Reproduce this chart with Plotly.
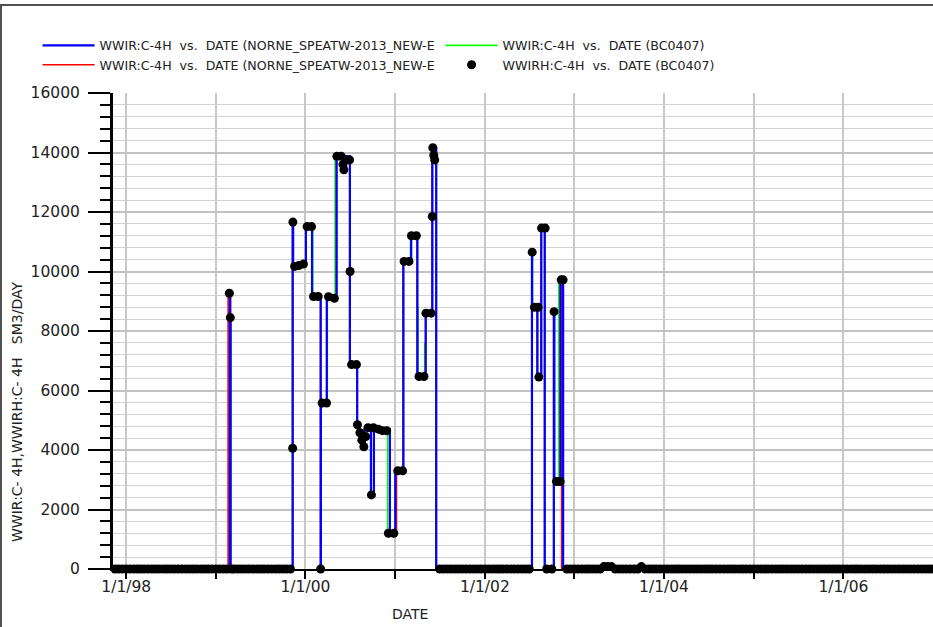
import plotly.graph_objects as go

# ---------------- data ----------------
# History (WWIRH) readings, split into segments
hist_a_dates = [  # shut-in period before first injection, incl. short 1999 event
    "1997-11-01", "1997-11-16", "1997-12-01", "1997-12-16",
    "1998-01-01", "1998-01-16", "1998-02-01", "1998-02-16", "1998-03-01", "1998-03-16",
    "1998-04-01", "1998-04-16", "1998-05-01", "1998-05-16", "1998-06-01", "1998-06-16",
    "1998-07-01", "1998-07-16", "1998-08-01", "1998-08-16", "1998-09-01", "1998-09-16",
    "1998-10-01", "1998-10-16", "1998-11-01", "1998-11-16", "1998-12-01", "1998-12-16",
    "1999-01-01", "1999-01-16", "1999-02-01", "1999-02-16", "1999-02-25", "1999-03-01",
    "1999-03-05", "1999-03-16", "1999-04-01", "1999-04-16", "1999-05-01", "1999-05-16",
    "1999-06-01", "1999-06-16", "1999-07-01", "1999-07-16", "1999-08-01", "1999-08-16",
    "1999-09-01", "1999-09-16", "1999-10-01", "1999-10-16", "1999-11-01",
]
hist_a_vals = [
    0, 0, 0, 0,
    0, 0, 0, 0, 0, 0,
    0, 0, 0, 0, 0, 0,
    0, 0, 0, 0, 0, 0,
    0, 0, 0, 0, 0, 0,
    0, 0, 0, 0, 9270, 8450,
    0, 0, 0, 0, 0, 0,
    0, 0, 0, 0, 0, 0,
    0, 0, 0, 0, 0,
]
hist_b_dates = [  # injection period 1999-2001
    "1999-11-10", "1999-11-11", "1999-11-18", "1999-12-05", "1999-12-24",
    "2000-01-08", "2000-01-26", "2000-02-03", "2000-02-22", "2000-03-03", "2000-03-09",
    "2000-03-27", "2000-04-04", "2000-04-28", "2000-05-08", "2000-05-26", "2000-06-02",
    "2000-06-06", "2000-06-13", "2000-06-29", "2000-07-01", "2000-07-07", "2000-07-27",
    "2000-07-31", "2000-08-10", "2000-08-18", "2000-08-26", "2000-09-03", "2000-09-12",
    "2000-09-26", "2000-10-04", "2000-10-24", "2000-11-10", "2000-11-27", "2000-12-04",
    "2000-12-26", "2001-01-11", "2001-01-31", "2001-02-06", "2001-02-26", "2001-03-08",
    "2001-03-28", "2001-04-08", "2001-04-28", "2001-05-06", "2001-05-27", "2001-06-01",
    "2001-06-03", "2001-06-07", "2001-06-11",
]
hist_b_vals = [
    4060, 11660, 10170, 10200, 10250,
    11510, 11510, 9160, 9160, 0, 5580,
    5580, 9150, 9100, 13870, 13870, 13600,
    13420, 13750, 13750, 10000, 6870, 6870,
    4850, 4580, 4330, 4110, 4450, 4750,
    2490, 4750, 4700, 4650, 4650, 1200,
    1200, 3300, 3300, 10340, 10340, 11200,
    11200, 6470, 6470, 8600, 8600, 11850,
    14160, 13900, 13750,
]
hist_c_dates = [  # shut-in 2001-2002
    "2001-07-01", "2001-07-16", "2001-08-01", "2001-08-16", "2001-09-01", "2001-09-16",
    "2001-10-01", "2001-10-16", "2001-11-01", "2001-11-16", "2001-12-01", "2001-12-16",
    "2002-01-01", "2002-01-16", "2002-02-01", "2002-02-16", "2002-03-01", "2002-03-16",
    "2002-04-01", "2002-04-16", "2002-05-01", "2002-05-16", "2002-06-01", "2002-06-16",
    "2002-07-01",
]
hist_c_vals = [
    0, 0, 0, 0, 0, 0,
    0, 0, 0, 0, 0, 0,
    0, 0, 0, 0, 0, 0,
    0, 0, 0, 0, 0, 0,
    0,
]
hist_d_dates = [  # injection period 2002
    "2002-07-13", "2002-07-22", "2002-08-06", "2002-08-09", "2002-08-20", "2002-09-04",
    "2002-09-10", "2002-10-01", "2002-10-10", "2002-10-20", "2002-11-04", "2002-11-08",
    "2002-11-16",
]
hist_d_vals = [
    10650, 8800, 8800, 6450, 11460, 11460,
    0, 0, 8650, 2940, 2940, 9720,
    9720,
]
hist_e_dates = [  # shut-in 2002-2007
    "2002-12-01", "2002-12-16",
    "2003-01-01", "2003-01-16", "2003-02-01", "2003-02-16", "2003-03-01", "2003-03-16",
    "2003-04-01", "2003-04-16", "2003-05-01", "2003-05-16", "2003-06-01", "2003-06-16",
    "2003-07-01", "2003-07-16", "2003-08-01", "2003-08-16", "2003-09-01", "2003-09-16",
    "2003-10-01", "2003-10-16", "2003-11-01", "2003-11-16", "2003-12-01", "2003-12-16",
    "2004-01-01", "2004-01-16", "2004-02-01", "2004-02-16", "2004-03-01", "2004-03-16",
    "2004-04-01", "2004-04-16", "2004-05-01", "2004-05-16", "2004-06-01", "2004-06-16",
    "2004-07-01", "2004-07-16", "2004-08-01", "2004-08-16", "2004-09-01", "2004-09-16",
    "2004-10-01", "2004-10-16", "2004-11-01", "2004-11-16", "2004-12-01", "2004-12-16",
    "2005-01-01", "2005-01-16", "2005-02-01", "2005-02-16", "2005-03-01", "2005-03-16",
    "2005-04-01", "2005-04-16", "2005-05-01", "2005-05-16", "2005-06-01", "2005-06-16",
    "2005-07-01", "2005-07-16", "2005-08-01", "2005-08-16", "2005-09-01", "2005-09-16",
    "2005-10-01", "2005-10-16", "2005-11-01", "2005-11-16", "2005-12-01", "2005-12-16",
    "2006-01-01", "2006-01-16", "2006-02-01", "2006-02-16", "2006-03-01", "2006-03-16",
    "2006-04-01", "2006-04-16", "2006-05-01", "2006-05-16", "2006-06-01", "2006-06-16",
    "2006-07-01", "2006-07-16", "2006-08-01", "2006-08-16", "2006-09-01", "2006-09-16",
    "2006-10-01", "2006-10-16", "2006-11-01", "2006-11-16", "2006-12-01", "2006-12-16",
    "2007-01-01",
]
hist_e_vals = [
    0, 0,
    0, 0, 0, 0, 0, 0,
    0, 0, 80, 80, 80, 0,
    0, 0, 0, 0, 0, 0,
    80, 0, 0, 0, 0, 0,
    0, 0, 0, 0, 0, 0,
    0, 0, 0, 0, 0, 0,
    0, 0, 0, 0, 0, 0,
    0, 0, 0, 0, 0, 0,
    0, 0, 0, 0, 0, 0,
    0, 0, 0, 0, 0, 0,
    0, 0, 0, 0, 0, 0,
    0, 0, 0, 0, 0, 0,
    0, 0, 0, 0, 0, 0,
    0, 0, 0, 0, 0, 0,
    0, 0, 0, 0, 0, 0,
    0, 0, 0, 0, 0, 0,
    0,
]

# Simulated rates (step functions)
blue_dates = [
    "1997-11-01", "1999-02-27", "1999-02-28", "1999-03-02", "1999-11-10", "1999-11-12",
    "2000-01-03", "2000-01-28", "2000-03-03", "2000-03-04", "2000-03-28", "2000-05-07",
    "2000-06-30", "2000-07-30", "2000-08-09", "2000-08-19", "2000-08-29", "2000-09-24",
    "2000-10-06", "2000-12-10", "2001-01-01", "2001-02-03", "2001-03-07", "2001-04-01",
    "2001-05-05", "2001-06-01", "2001-06-17", "2002-07-12", "2002-07-13", "2002-08-03",
    "2002-08-19", "2002-09-02", "2002-10-09", "2002-10-11", "2002-11-05", "2002-11-16",
    "2007-01-01",
]
blue_vals = [
    0, 9270, 8450, 0, 11660, 10200,
    11510, 9160, 0, 5580, 9150, 13870,
    6870, 4850, 4500, 4150, 4700, 2490,
    4700, 1200, 3300, 10340, 11200, 6470,
    8600, 14160, 0, 10650, 8800, 6450,
    11460, 0, 8650, 2940, 9720, 0,
    0,
]

red_dates = [
    "1997-11-01", "1999-02-20", "1999-03-02", "1999-11-10", "1999-11-12",
    "2000-01-03", "2000-01-28", "2000-03-03", "2000-03-04", "2000-03-28", "2000-05-07",
    "2000-06-30", "2000-07-30", "2000-08-09", "2000-08-19", "2000-08-29", "2000-09-24",
    "2000-10-06", "2000-12-10", "2001-01-06", "2001-02-03", "2001-03-07", "2001-04-01",
    "2001-05-05", "2001-06-01", "2001-06-17", "2002-07-12", "2002-07-13", "2002-08-03",
    "2002-08-19", "2002-09-02", "2002-10-09", "2002-10-11", "2002-11-05", "2002-11-10",
    "2007-01-01",
]
red_vals = [
    0, 9270, 0, 11660, 10200,
    11510, 9160, 0, 5580, 9150, 13870,
    6870, 4850, 4500, 4150, 4700, 2490,
    4700, 1200, 3300, 10340, 11200, 6470,
    8600, 14160, 0, 10650, 8800, 6450,
    11460, 0, 8650, 2940, 9720, 0,
    0,
]

green_dates = [
    "1997-11-01", "1999-02-27", "1999-02-28", "1999-03-02", "1999-11-10", "1999-11-12",
    "2000-01-03", "2000-01-31", "2000-03-04", "2000-03-30", "2000-05-01",
    "2000-06-30", "2000-07-30", "2000-08-09", "2000-08-19", "2000-08-29", "2000-09-24",
    "2000-10-06", "2000-12-01", "2001-01-01", "2001-02-03", "2001-03-04", "2001-04-01",
    "2001-04-04", "2001-05-01", "2001-05-05", "2001-06-01", "2001-06-17", "2002-07-12",
    "2002-07-13", "2002-08-03", "2002-08-19", "2002-09-02", "2002-10-09", "2002-10-11",
    "2002-10-29", "2002-11-16", "2007-01-01",
]
green_vals = [
    0, 9270, 8450, 0, 11660, 10200,
    11510, 9160, 5580, 9150, 13870,
    6870, 4850, 4500, 4150, 4700, 2490,
    4700, 1200, 3300, 10340, 11200, 8780,
    6470, 7590, 8600, 14160, 0, 10650,
    8800, 6450, 11460, 0, 8650, 2940,
    9720, 0, 0,
]

x_tick_vals = ["1998-01-01", "1999-01-01", "2000-01-01", "2001-01-01", "2002-01-01",
               "2003-01-01", "2004-01-01", "2005-01-01", "2006-01-01"]
x_tick_text = ["1/1/98", "", "1/1/00", "", "1/1/02", "", "1/1/04", "", "1/1/06"]
y_tick_vals = [0, 2000, 4000, 6000, 8000, 10000, 12000, 14000, 16000]
y_minor_step = 400

NB = "\u00a0"
name_blue = "WWIR:C-4H" + NB + " vs." + NB + " DATE (NORNE_SPEATW-2013_NEW-E"
name_red = "WWIR:C-4H" + NB + " vs." + NB + " DATE (NORNE_SPEATW-2013_NEW-E"
name_green = "WWIR:C-4H" + NB + " vs." + NB + " DATE (BC0407)"
name_hist = "WWIRH:C-4H" + NB + " vs." + NB + " DATE (BC0407)"
y_title = "WWIR:C-" + NB + "4H,WWIRH:C-" + NB + "4H" + NB + NB + NB + "SM3/DAY"
x_title = "DATE"

hist_dates = hist_a_dates + hist_b_dates + hist_c_dates + hist_d_dates + hist_e_dates
hist_vals = hist_a_vals + hist_b_vals + hist_c_vals + hist_d_vals + hist_e_vals

FONT = "DejaVu Sans"
TXT = "#222222"

# ---------------- figure ----------------
fig = go.Figure()
fig.add_trace(go.Scatter(x=green_dates, y=green_vals, mode="lines", name=name_green,
                         line=dict(color="#00ff00", width=1.6, shape="hv"), legendrank=2))
fig.add_trace(go.Scatter(x=red_dates, y=red_vals, mode="lines", name=name_red,
                         line=dict(color="#ff0000", width=1.6, shape="hv"), legendrank=3))
fig.add_trace(go.Scatter(x=blue_dates, y=blue_vals, mode="lines", name=name_blue,
                         line=dict(color="#0000ff", width=2.2, shape="hv"), legendrank=1))
fig.add_trace(go.Scatter(x=hist_dates, y=hist_vals, mode="markers", name=name_hist,
                         marker=dict(color="black", size=9, symbol="circle"),
                         cliponaxis=False, legendrank=4))

fig.update_layout(
    width=933, height=627,
    margin=dict(l=113, r=0, t=93, b=58, pad=0, autoexpand=False),
    paper_bgcolor="white", plot_bgcolor="white",
    font=dict(family=FONT, size=14, color=TXT),
    showlegend=True,
    legend=dict(orientation="h", x=-0.092, y=1.131, xanchor="left", yanchor="top",
                font=dict(family=FONT, size=12.6, color=TXT),
                itemwidth=52, entrywidth=336, entrywidthmode="pixels",
                bgcolor="rgba(0,0,0,0)", traceorder="normal"),
    xaxis=dict(type="date", range=["1997-11-08", "2007-01-01"],
               tickmode="array", tickvals=x_tick_vals, ticktext=x_tick_text,
               ticks="outside", ticklen=8, tickwidth=2, tickcolor="black",
               ticklabelstandoff=-6,
               showgrid=True, gridcolor="#c8c8c8", gridwidth=2,
               showline=True, linecolor="black", linewidth=2, zeroline=False,
               tickfont=dict(family=FONT, size=15.5, color=TXT)),
    yaxis=dict(range=[y_tick_vals[0], y_tick_vals[-1]], tickmode="linear",
               tick0=y_tick_vals[0], dtick=y_tick_vals[1] - y_tick_vals[0],
               tickformat="d",
               ticks="outside", ticklen=22, tickwidth=2, tickcolor="black",
               ticklabelstandoff=5,
               showgrid=True, gridcolor="#c2c2c2", gridwidth=1.6,
               showline=True, linecolor="black", linewidth=3, zeroline=False,
               tickfont=dict(family=FONT, size=15.5, color=TXT),
               minor=dict(tickmode="linear", tick0=0, dtick=y_minor_step, ticks="outside",
                          ticklen=10, tickwidth=1.5, tickcolor="black", showgrid=True,
                          gridcolor="#d2d2d2", gridwidth=1.2)),
    annotations=[
        dict(text=x_title, xref="paper", yref="paper", x=0.362, y=-0.095,
             xanchor="center", yanchor="middle", showarrow=False,
             font=dict(family=FONT, size=14, color=TXT)),
        dict(text=y_title, xref="paper", yref="paper", x=-0.117, y=0.33,
             xanchor="center", yanchor="middle", showarrow=False, textangle=-90,
             font=dict(family=FONT, size=14, color=TXT)),
    ],
    shapes=[dict(type="rect", xref="paper", yref="paper", x0=-0.1366, x1=1.05,
                 y0=-0.2, y1=1.185, line=dict(color="#505050", width=2),
                 fillcolor="rgba(0,0,0,0)", layer="below")],
)

fig.write_html("out.html", config={"displayModeBar": False},
               post_script="document.body.style.margin='0';"
                           "document.body.style.overflow='hidden';")
